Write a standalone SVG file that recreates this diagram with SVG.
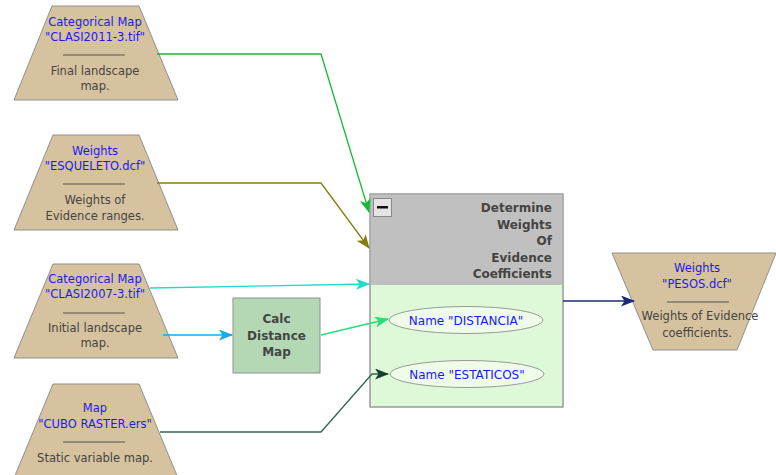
<svg xmlns="http://www.w3.org/2000/svg" width="776" height="475" viewBox="0 0 776 475">
<style>
.trap{fill:#d6c29e;stroke:#8f8f8f;stroke-width:1}
.t{font-family:"DejaVu Sans","Liberation Sans",sans-serif;font-size:11.5px;text-anchor:middle}
.e{font-size:12px}
.b{fill:#1a1aee}
.g{fill:#444444}
.sep{stroke:#555555;stroke-width:1}
.bold{font-family:"DejaVu Sans","Liberation Sans",sans-serif;font-size:12px;font-weight:bold;fill:#444444}
.c{fill:none;stroke-width:1.3}
</style>
<defs>
<marker id="aGreen" markerWidth="15" markerHeight="11" refX="13" refY="5.5" orient="auto" markerUnits="userSpaceOnUse"><path d="M0,0 L14,5.5 L0,11 L3.5,5.5 z" fill="#1ab83a"/></marker>
<marker id="aOlive" markerWidth="15" markerHeight="11" refX="13" refY="5.5" orient="auto" markerUnits="userSpaceOnUse"><path d="M0,0 L14,5.5 L0,11 L3.5,5.5 z" fill="#857d10"/></marker>
<marker id="aCyan" markerWidth="15" markerHeight="11" refX="13" refY="5.5" orient="auto" markerUnits="userSpaceOnUse"><path d="M0,0 L14,5.5 L0,11 L3.5,5.5 z" fill="#22d8cc"/></marker>
<marker id="aBlue" markerWidth="15" markerHeight="11" refX="13" refY="5.5" orient="auto" markerUnits="userSpaceOnUse"><path d="M0,0 L14,5.5 L0,11 L3.5,5.5 z" fill="#1aa8e6"/></marker>
<marker id="aSpring" markerWidth="15" markerHeight="11" refX="13" refY="5.5" orient="auto" markerUnits="userSpaceOnUse"><path d="M0,0 L14,5.5 L0,11 L3.5,5.5 z" fill="#22e07a"/></marker>
<marker id="aDark" markerWidth="15" markerHeight="11" refX="13" refY="5.5" orient="auto" markerUnits="userSpaceOnUse"><path d="M0,0 L14,5.5 L0,11 L3.5,5.5 z" fill="#153f30"/></marker>
<marker id="aNavy" markerWidth="15" markerHeight="11" refX="13" refY="5.5" orient="auto" markerUnits="userSpaceOnUse"><path d="M0,0 L14,5.5 L0,11 L3.5,5.5 z" fill="#1a2a7a"/></marker>
</defs>
<rect width="776" height="475" fill="#ffffff"/>

<g id="clasi2011">
<polygon class="trap" points="52,6 139,6 178,100 14,100"/>
<text class="t b" x="95" y="26">Categorical Map</text>
<text class="t b" x="95" y="41">"CLASI2011-3.tif"</text>
<line class="sep" x1="63" y1="55" x2="125" y2="55"/>
<text class="t g" x="95" y="75">Final landscape</text>
<text class="t g" x="95" y="90">map.</text>
</g>

<g id="esqueleto">
<polygon class="trap" points="53,135 139,135 178,230 14,230"/>
<text class="t b" x="95" y="155">Weights</text>
<text class="t b" x="95" y="170">"ESQUELETO.dcf"</text>
<line class="sep" x1="63" y1="184" x2="125" y2="184"/>
<text class="t g" x="95" y="204">Weights of</text>
<text class="t g" x="95" y="220">Evidence ranges.</text>
</g>

<g id="clasi2007">
<polygon class="trap" points="53,264 139,264 178,358 14,358"/>
<text class="t b" x="95" y="283">Categorical Map</text>
<text class="t b" x="95" y="298">"CLASI2007-3.tif"</text>
<line class="sep" x1="63" y1="313" x2="125" y2="313"/>
<text class="t g" x="95" y="332">Initial landscape</text>
<text class="t g" x="95" y="347">map.</text>
</g>

<g id="cubo">
<polygon class="trap" points="53,384 139,384 178,478 14,478"/>
<text class="t b" x="95" y="412">Map</text>
<text class="t b" x="95" y="428">"CUBO RASTER.ers"</text>
<line class="sep" x1="63" y1="442" x2="125" y2="442"/>
<text class="t g" x="95" y="462">Static variable map.</text>
</g>

<g id="calc">
<rect x="233" y="298" width="87" height="75" fill="#b4d8b4" stroke="#8f8f8f" stroke-width="1"/>
<text class="bold" x="276.5" y="323" text-anchor="middle">Calc</text>
<text class="bold" x="276.5" y="340" text-anchor="middle">Distance</text>
<text class="bold" x="276.5" y="356" text-anchor="middle">Map</text>
</g>

<g id="determine">
<rect x="370" y="194" width="193" height="213" fill="#ddf9d7" stroke="#9a9a9a" stroke-width="1"/>
<rect x="370.5" y="194.5" width="192" height="90.5" fill="#c0c0c0"/>
<rect x="370" y="194" width="193" height="213" fill="none" stroke="#9a9a9a" stroke-width="1"/>
<rect x="373.5" y="198.5" width="18" height="18" fill="#e4e4e4" stroke="#888888" stroke-width="1"/>
<rect x="377" y="206" width="11" height="2.5" fill="#111111"/>
<text class="bold" x="552" y="212" text-anchor="end">Determine</text>
<text class="bold" x="552" y="228.5" text-anchor="end">Weights</text>
<text class="bold" x="552" y="245" text-anchor="end">Of</text>
<text class="bold" x="552" y="261.5" text-anchor="end">Evidence</text>
<text class="bold" x="552" y="278" text-anchor="end">Coefficients</text>
</g>

<g id="distancia">
<ellipse cx="466" cy="320" rx="77" ry="13.5" fill="#eefce8" stroke="#999999" stroke-width="1"/>
<text class="t e b" x="466" y="324.5">Name "DISTANCIA"</text>
</g>

<g id="estaticos">
<ellipse cx="467" cy="374" rx="77" ry="13.5" fill="#eefce8" stroke="#999999" stroke-width="1"/>
<text class="t e b" x="467" y="378.5">Name "ESTATICOS"</text>
</g>

<g id="pesos">
<polygon class="trap" points="612,253 776,253 737,350 653,350"/>
<text class="t b" x="697" y="272">Weights</text>
<text class="t b" x="697" y="288">"PESOS.dcf"</text>
<line class="sep" x1="667" y1="302" x2="729" y2="302"/>
<text class="t g" x="700" y="320">Weights of Evidence</text>
<text class="t g" x="697" y="337">coefficients.</text>
</g>

<g id="connectors">
<polyline class="c" points="157,54 321,54 369,212" stroke="#1ab83a" marker-end="url(#aGreen)"/>
<polyline class="c" points="157,183 321,183 369,248" stroke="#857d10" marker-end="url(#aOlive)"/>
<polyline class="c" points="150,288 369,284" stroke="#22d8cc" marker-end="url(#aCyan)"/>
<polyline class="c" points="163,335 232,335" stroke="#1aa8e6" marker-end="url(#aBlue)"/>
<polyline class="c" points="321,335 388,319" stroke="#22e07a" marker-end="url(#aSpring)"/>
<polyline class="c" points="160,432 321,432 372,374 388,374" stroke="#2f6650" marker-end="url(#aDark)"/>
<polyline class="c" points="563,301 634,301" stroke="#1a2a7a" marker-end="url(#aNavy)"/>
</g>
</svg>
